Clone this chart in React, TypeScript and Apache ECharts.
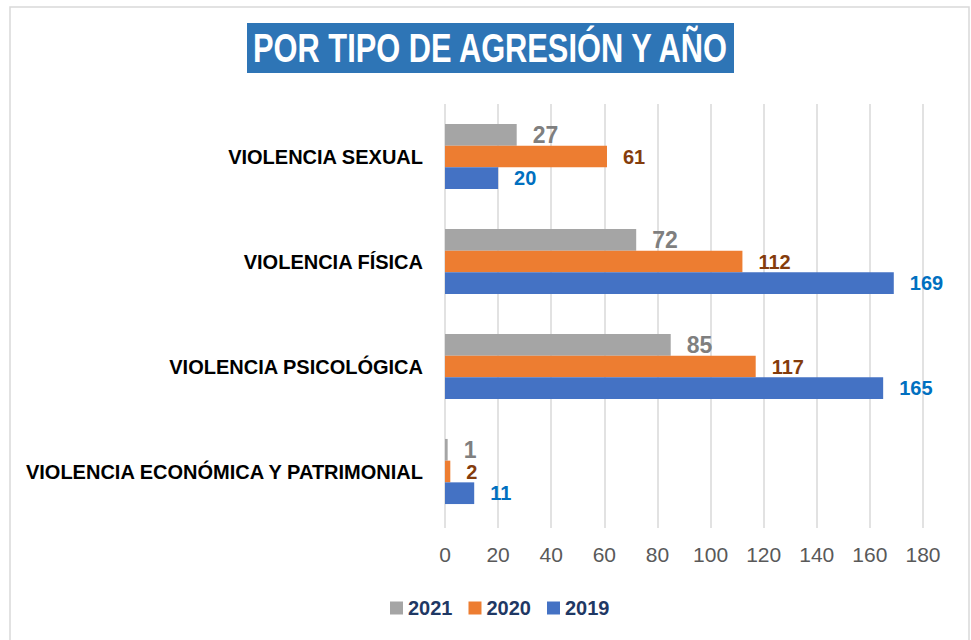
import React, { useEffect, useRef } from "react";
import * as echarts from "echarts";

const categories = [
  "VIOLENCIA ECONÓMICA Y PATRIMONIAL",
  "VIOLENCIA PSICOLÓGICA",
  "VIOLENCIA FÍSICA",
  "VIOLENCIA SEXUAL",
];
const values2019 = [11, 165, 169, 20];
const values2020 = [2, 117, 112, 61];
const values2021 = [1, 85, 72, 27];
const legendOrder = ["2021", "2020", "2019"];
const titleText = "POR TIPO DE AGRESIÓN Y AÑO";

const SANS = "'Liberation Sans', Arial, sans-serif";

export default function App() {
  const ref = useRef<HTMLDivElement>(null);
  useEffect(() => {
    if (!ref.current) return;
    const chart = echarts.init(ref.current, null, { renderer: "svg" });
    const mkSeries = (name: string, data: number[], color: string, labelColor: string, size: number) => ({
      name,
      type: "bar",
      data,
      barGap: "0%",
      barCategoryGap: "38%",
      itemStyle: { color },
      label: {
        show: true,
        position: "right",
        distance: 16,
        color: labelColor,
        fontFamily: SANS,
        fontWeight: "bold",
        fontSize: size,
        lineHeight: 20,
      },
    });
    chart.setOption({
      animation: false,
      backgroundColor: "#ffffff",
      graphic: [
        {
          type: "rect",
          shape: { x: 10, y: 7, width: 959, height: 650 },
          style: { fill: "none", stroke: "#d9d9d9", lineWidth: 1.5 },
          silent: true,
        },
        {
          type: "rect",
          shape: { x: 247, y: 23, width: 487, height: 50 },
          style: { fill: "#2E75B6" },
        },
        {
          type: "text",
          x: 490,
          y: 49,
          scaleX: 0.77,
          style: {
            text: titleText,
            fill: "#ffffff",
            font: `bold 40px ${SANS}`,
            textAlign: "center",
            textVerticalAlign: "middle",
          },
        },
      ],
      legend: {
        data: legendOrder,
        top: 593,
        left: 385,
        itemWidth: 13,
        itemHeight: 13,
        itemGap: 16,
        icon: "rect",
        textStyle: {
          color: "#1F3864",
          fontFamily: SANS,
          fontWeight: "bold",
          fontSize: 20,
        },
      },
      grid: { left: 445, right: 48, top: 104, bottom: 116, containLabel: false },
      xAxis: {
        type: "value",
        min: 0,
        max: 180,
        interval: 20,
        axisLine: { show: false },
        axisTick: { show: true, length: 4, lineStyle: { color: "#d9d9d9", width: 1.5 } },
        splitLine: { show: true, lineStyle: { color: "#d9d9d9", width: 1.5 } },
        axisLabel: {
          color: "#595959",
          fontFamily: SANS,
          fontSize: 21,
          margin: 20,
        },
      },
      yAxis: {
        type: "category",
        data: categories,
        axisLine: { show: false },
        axisTick: { show: false },
        axisLabel: {
          color: "#000000",
          fontFamily: SANS,
          fontWeight: "bold",
          fontSize: 20,
          margin: 22,
        },
      },
      series: [
        mkSeries("2021", values2021, "#A5A5A5", "#7F7F7F", 23),
        mkSeries("2020", values2020, "#ED7D31", "#843C0C", 20),
        mkSeries("2019", values2019, "#4472C4", "#0070C0", 20),
      ],
    });
    return () => chart.dispose();
  }, []);
  return (
    <div
      ref={ref}
      style={{ position: "fixed", left: 0, top: 0, width: 971, height: 640 }}
    />
  );
}
